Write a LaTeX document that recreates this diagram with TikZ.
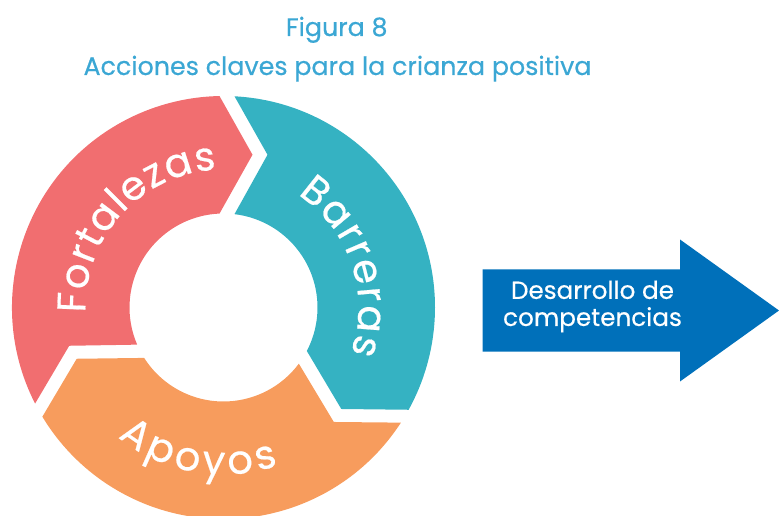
\documentclass[tikz,border=0pt]{standalone}
\usepackage{fontspec}
\setmainfont{Poppins}
\newfontfamily\heavyfont[FakeBold=0.5]{Poppins}
\usetikzlibrary{calc,decorations.text}

\definecolor{fortaleza}{HTML}{F16E70}
\definecolor{barrera}{HTML}{35B2C2}
\definecolor{apoyo}{HTML}{F79C5D}
\definecolor{flecha}{HTML}{0070BA}
\definecolor{titulo}{HTML}{3BA7D4}

\newcommand{\ringsize}{\heavyfont\fontsize{30}{32}\selectfont}
\tikzset{
  ringtext/.style n args={2}{decorate, decoration={text effects along path, text={#1}, text align=center,
      text effects/.cd, text along path,
      characters={text=white, font=\ringsize},
      character widths={font=\ringsize, inner xsep=#2}}},
  titletext/.style={text=titulo, font=\heavyfont\fontsize{19}{20}\selectfont, anchor=base},
}

\begin{document}
\begin{tikzpicture}[x=0.75pt,y=0.75pt]
\path[use as bounding box] (0,0) rectangle (779,515);

% ring centre and radii
\coordinate (c) at (223.5,207.5);
\def\Ri{94}
\def\Ro{211.5}
\def\Rm{152.75}

% three arrow parts of the ring (clockwise)
\foreach \a/\b/\col in {210/90/fortaleza, 90/-30/barrera, -30/-150/apoyo}{
  \fill[\col] ($(c)+({\a-asin(11/\Ro)}:\Ro)$)
     arc[start angle={\a-asin(11/\Ro)}, end angle={\b+asin(4/\Ro)}, radius=\Ro]
     -- ($(c)+(\b:\Rm)+({\b-90}:29)$)
     -- ($(c)+({\b+asin(4/\Ri)}:\Ri)$)
     arc[start angle={\b+asin(4/\Ri)}, end angle={\a-asin(11/\Ri)}, radius=\Ri]
     -- ($(c)+(\a:\Rm)+({\a-90}:44)$) -- cycle;
}

% labels along the ring
\path[ringtext={Fortalezas}{0.5pt}] ($(c)+(197:138)$) arc[start angle=197, end angle=78, radius=138];
\path[ringtext={Barreras}{0.6pt}] ($(c)+(78:135)$) arc[start angle=78, end angle=-41, radius=135];
\path[ringtext={Apoyos}{1.6pt}] ($(c)+(205:167)$) arc[start angle=205, end angle=315, radius=167];

% arrow
\fill[flecha] (482.5,163.3) -- (482.5,245.7) -- (680,245.7) -- (680,275.5)
   -- (779,204.5) -- (680,133.5) -- (680,163.3) -- cycle;
\node[text=white, align=center, font=\heavyfont\fontsize{18.5}{20.3}\selectfont] (dev) at (592.5,208.5)
   {Desarrollo de\\competencias};

% title
\node[titletext] (fig) at (336.7,479) {Figura 8};
\node[titletext] (tit) at (337.5,440) {Acciones claves para la crianza positiva};
\end{tikzpicture}
\end{document}
